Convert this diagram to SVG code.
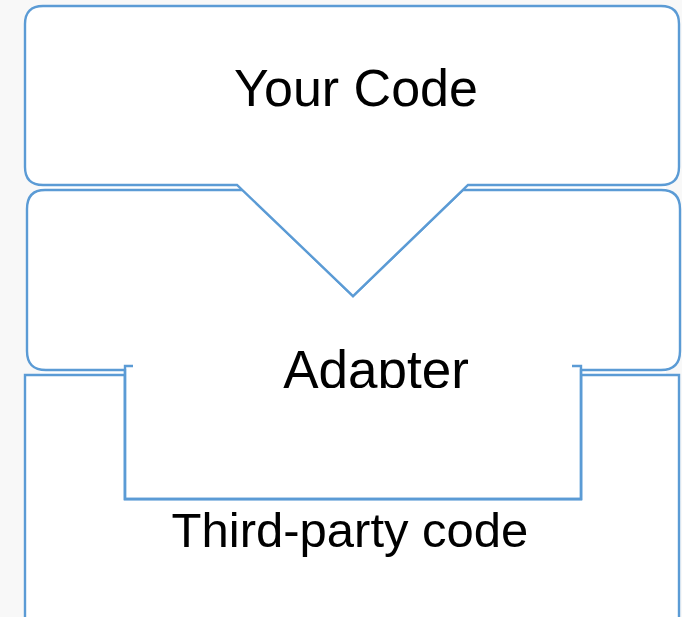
<svg xmlns="http://www.w3.org/2000/svg" width="682" height="617" viewBox="0 0 682 617">
  <defs>
    <style>
      .shape { fill: #ffffff; stroke: #5b9bd5; stroke-width: 2.4; stroke-linejoin: miter; }
      .edge { fill: none; stroke: #5b9bd5; stroke-width: 2.4; }
      .label { font-family: "Liberation Sans", Arial, Helvetica, sans-serif; fill: #000000; text-anchor: middle; }
    </style>
    <clipPath id="adapterClip">
      <rect x="0" y="300" width="682" height="88"/>
    </clipPath>
  </defs>

  <!-- page background -->
  <rect x="0" y="0" width="682" height="617" fill="#f8f8f8"/>
  <!-- white seams between the stacked layers -->
  <rect x="40" y="184" width="626" height="8" fill="#ffffff"/>
  <rect x="40" y="369" width="626" height="8" fill="#ffffff"/>

  <!-- bottom layer: third-party code with a slot for the adapter -->
  <g id="third-party">
    <path class="shape" d="M25,618 V375 H125 V499 H581 V375 H679 V618"/>
    <text class="label" x="350" y="547" font-size="49">Third-party code</text>
  </g>

  <!-- middle layer: adapter, notched on top, plug on the bottom -->
  <g id="adapter">
    <path class="shape" d="M45,190 H243 L353,296 L463,190 H661 Q680,190 680,209 V351 Q680,370 661,370 H581 V499 H125 V370 H46 Q27,370 27,351 V209 Q27,190 45,190 Z"/>
    <rect x="132" y="300" width="440" height="90" fill="#ffffff"/>
    <path class="edge" d="M133,366 H125 V499 H581 V366 H572"/>
    <text class="label" x="376" y="388" font-size="53" clip-path="url(#adapterClip)">Adapter</text>
  </g>

  <!-- top layer: your code, with a wedge pointing down into the adapter -->
  <g id="your-code">
    <path class="shape" d="M43,6 H661 Q679,6 679,24 V167 Q679,185 661,185 H468 L353,296 L237,185 H43 Q25,185 25,167 V24 Q25,6 43,6 Z"/>
    <text class="label" x="356" y="106" font-size="52">Your Code</text>
  </g>

  <g id="connectors"></g>
</svg>
